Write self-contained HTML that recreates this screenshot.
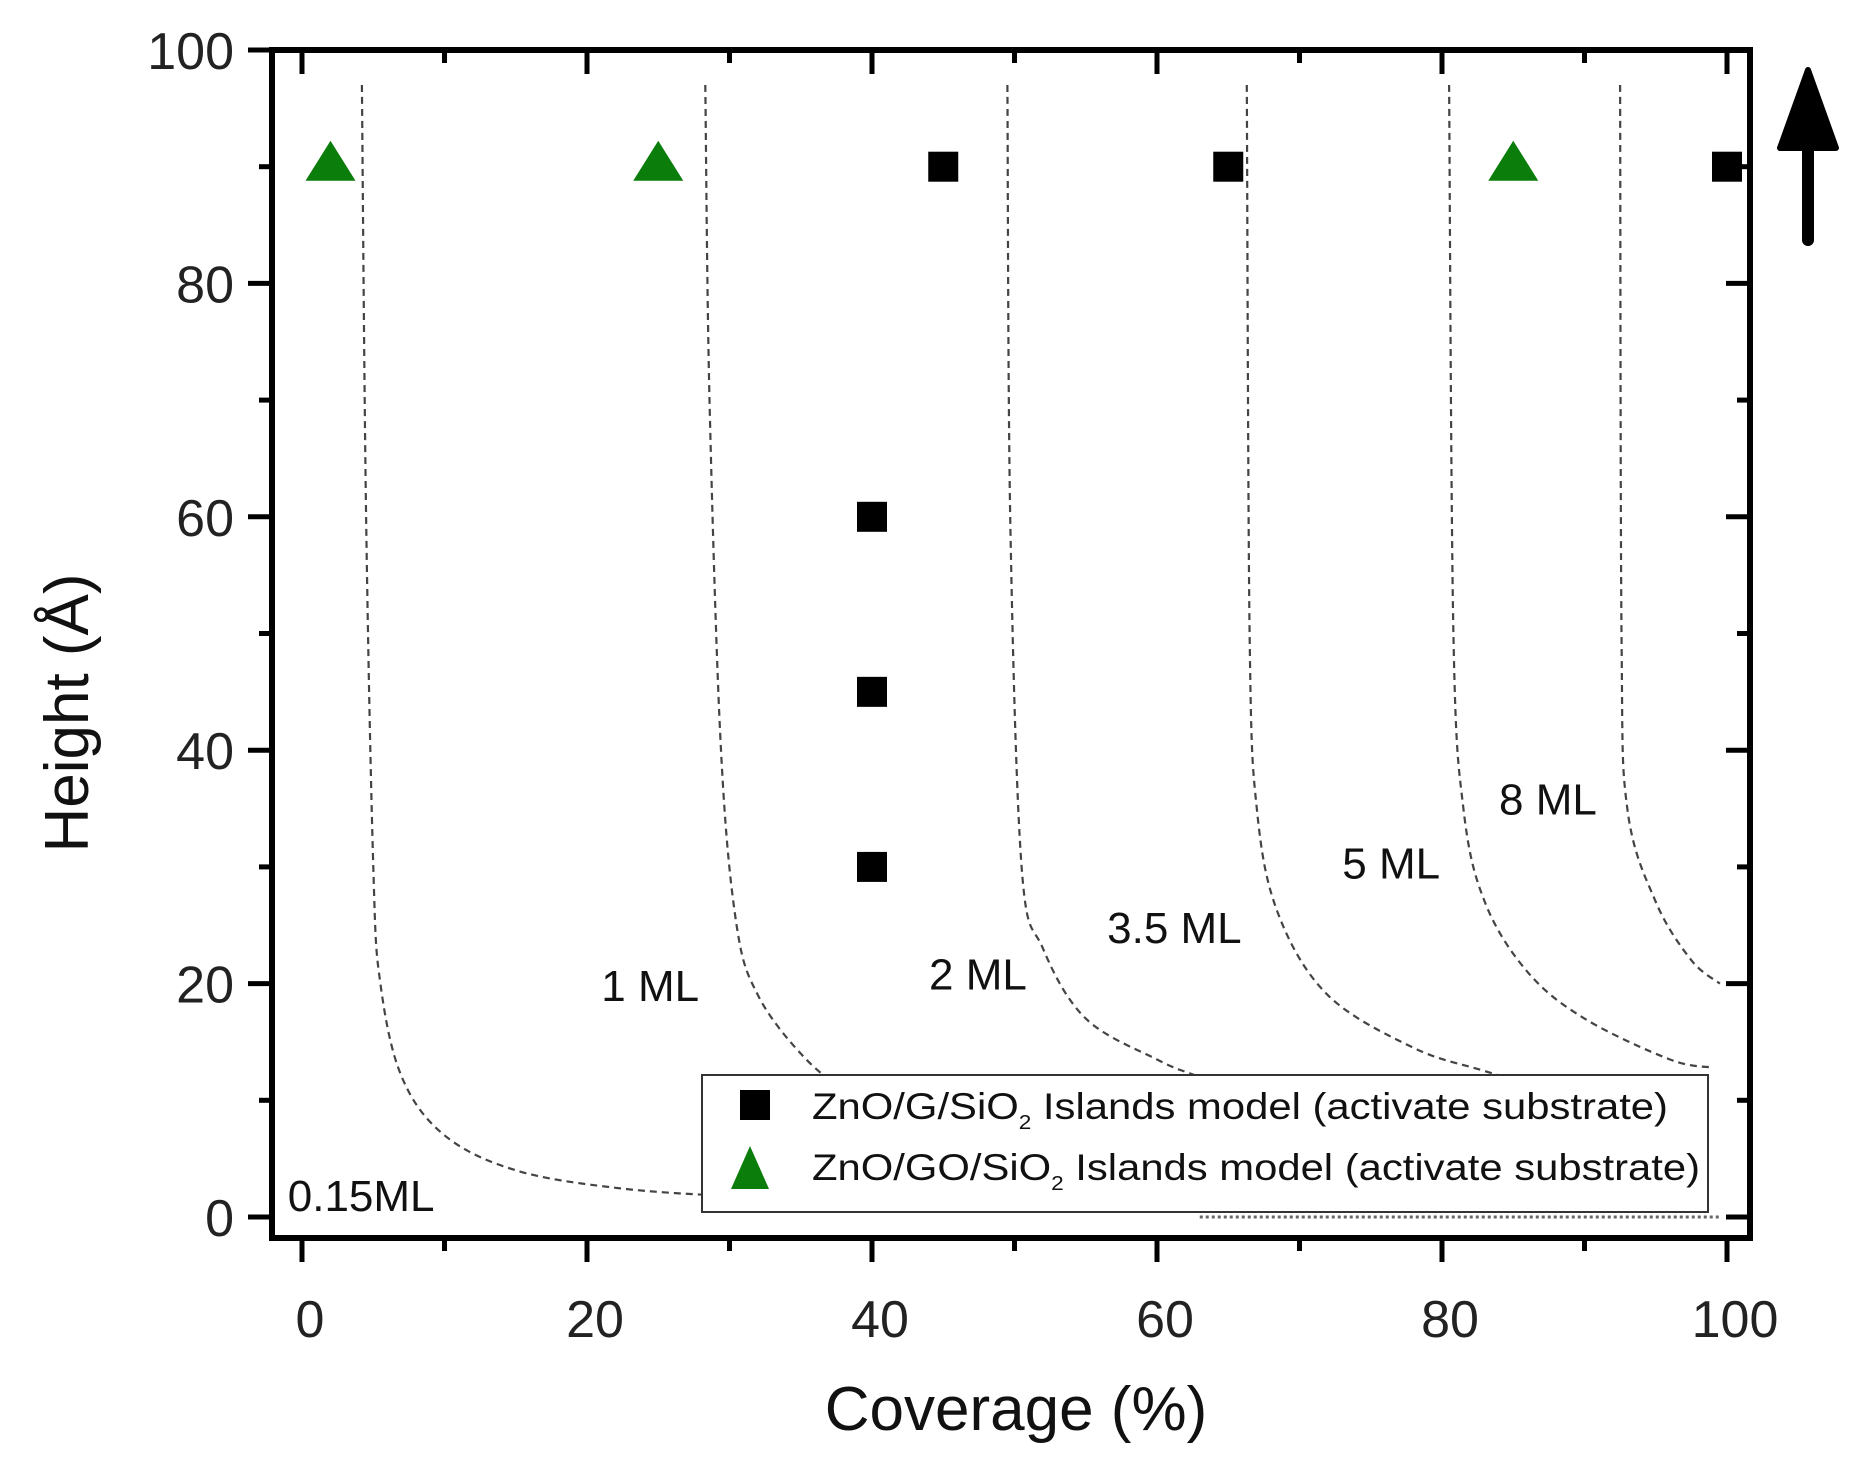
<!DOCTYPE html>
<html><head><meta charset="utf-8"><style>
html,body{margin:0;padding:0;background:#fff;}
svg{display:block;font-family:"Liberation Sans",Arial,sans-serif;}
</style></head><body>
<svg id="chart" width="1869" height="1473" viewBox="0 0 1869 1473" xmlns="http://www.w3.org/2000/svg">
<g id="curves"></g>
<g id="labels"></g>
<g id="legend">
  <rect x="702" y="1075" width="1006" height="137" fill="#fff" stroke="#333" stroke-width="2"/>
  <rect x="740" y="1090" width="30" height="30" fill="#000"/>
  <text x="812" y="1119" font-size="37" fill="#111" textLength="856" lengthAdjust="spacingAndGlyphs">ZnO/G/SiO<tspan font-size="20" dy="10">2</tspan><tspan dy="-10"> Islands model (activate substrate)</tspan></text>
  <polygon points="731,1189 769,1189 750,1146" fill="#0b7d0b"/>
  <text x="812" y="1180" font-size="37" fill="#111" textLength="888" lengthAdjust="spacingAndGlyphs">ZnO/GO/SiO<tspan font-size="20" dy="10">2</tspan><tspan dy="-10"> Islands model (activate substrate)</tspan></text>
</g>
<g id="marks"></g>
<g id="axes"></g>
<text x="1016" y="1430" font-size="62" text-anchor="middle" fill="#111">Coverage (%)</text>
<text transform="translate(88,713) rotate(-90)" font-size="62" text-anchor="middle" fill="#111">Height (Å)</text>
<g>
  <line x1="1808" y1="240" x2="1808" y2="130" stroke="#000" stroke-width="12" stroke-linecap="round"/>
  <polygon points="1780,148 1836,148 1808,70" fill="#000" stroke="#000" stroke-width="6" stroke-linejoin="round"/>
</g>
</svg>
<script>
// data
const squareX = [45, 65, 100, 40, 40, 40];
const squareY = [90, 90, 90, 60, 45, 30];
const triangleX = [2, 25, 85];
const triangleY = [90, 90, 90];
const curveNames = ["0.15ML", "1 ML", "2 ML", "3.5 ML", "5 ML", "8 ML"];
const curve0X = [4.2, 4.5, 5, 5.5, 7, 10, 15, 22, 30, 40];
const curve0Y = [97, 60, 30, 20, 12, 7, 4, 2.5, 1.8, 1.5];
const curve1X = [28.3, 28.6, 29.4, 30.5, 32, 35, 38, 42, 50, 60];
const curve1Y = [97, 70, 40, 25, 19, 14, 11, 9, 6, 4];
const curve2X = [49.5, 49.7, 50.5, 52, 55, 60, 63, 70, 80];
const curve2Y = [97, 60, 30, 23, 17, 13.5, 12, 9, 6];
const curve3X = [66.3, 66.5, 67, 68.5, 72, 78, 83, 90];
const curve3Y = [97, 50, 35, 26, 19, 14.5, 12.5, 10];
const curve4X = [80.5, 80.8, 81.5, 83, 86, 90, 96, 99];
const curve4Y = [97, 50, 35, 27, 21, 17, 13.5, 12.8];
const curve5X = [92.5, 92.6, 93, 95, 97.5, 99.5];
const curve5Y = [97, 50, 35, 27, 22, 20];
const labelX = [-1, 21, 44, 56.5, 73, 84];
const labelY = [0.5, 18.5, 19.5, 23.5, 29, 34.5];
const xTicks = [0, 20, 40, 60, 80, 100];
const yTicks = [0, 20, 40, 60, 80, 100];

const NS = "http://www.w3.org/2000/svg";
const X0 = 302, X100 = 1727, Y0 = 1217, Y100 = 50;
const L = 272, R = 1750, T = 50, B = 1238;
function sx(v){ return X0 + (X100 - X0) * v / 100; }
function sy(v){ return Y0 - (Y0 - Y100) * v / 100; }
function mk(tag, attrs, parent){ const e = document.createElementNS(NS, tag); for (const k in attrs) e.setAttribute(k, attrs[k]); parent.appendChild(e); return e; }

function smoothPath(pts){
  let d = "M" + pts[0][0].toFixed(1) + "," + pts[0][1].toFixed(1);
  for (let i = 0; i < pts.length - 1; i++) {
    const p0 = pts[Math.max(0, i - 1)], p1 = pts[i], p2 = pts[i + 1], p3 = pts[Math.min(pts.length - 1, i + 2)];
    const c1x = p1[0] + (p2[0] - p0[0]) / 6, c1y = p1[1] + (p2[1] - p0[1]) / 6;
    const c2x = p2[0] - (p3[0] - p1[0]) / 6, c2y = p2[1] - (p3[1] - p1[1]) / 6;
    d += ` C${c1x.toFixed(1)},${c1y.toFixed(1)} ${c2x.toFixed(1)},${c2y.toFixed(1)} ${p2[0].toFixed(1)},${p2[1].toFixed(1)}`;
  }
  return d;
}

const curvesG = document.getElementById("curves");
const cxs = [curve0X, curve1X, curve2X, curve3X, curve4X, curve5X];
const cys = [curve0Y, curve1Y, curve2Y, curve3Y, curve4Y, curve5Y];
cxs.forEach((xs, i) => {
  const pts = xs.map((v, j) => [sx(v), sy(cys[i][j])]);
  const p = mk("path", {d: smoothPath(pts), fill: "none", stroke: "#444", "stroke-width": 2.2, "stroke-dasharray": "7,5"}, curvesG);
  
  
});
const bl = mk("line", {x1: sx(63), y1: sy(0), x2: sx(99.5), y2: sy(0), stroke: "#666", "stroke-width": 3, "stroke-dasharray": "3,3"}, curvesG);



const labelsG = document.getElementById("labels");
curveNames.forEach((n, i) => {
  const t = mk("text", {x: sx(labelX[i]), y: sy(labelY[i]), "font-size": 44, fill: "#111"}, labelsG);
  t.textContent = n;
  
  
});

const marksG = document.getElementById("marks");
squareX.forEach((v, i) => {
  const r = mk("rect", {x: sx(v) - 15, y: sy(squareY[i]) - 15, width: 30, height: 30, fill: "#000"}, marksG);
  
  
});
triangleX.forEach((v, i) => {
  const cx = sx(v), cy = sy(triangleY[i]);
  const p = mk("polygon", {points: `${cx-25},${cy+14} ${cx+25},${cy+14} ${cx},${cy-26}`, fill: "#0b7d0b"}, marksG);
  
  
});

const ax = document.getElementById("axes");
mk("rect", {x: L, y: T, width: R - L, height: B - T, fill: "none", stroke: "#000", "stroke-width": 6}, ax);
for (let v = 0; v <= 100; v += 10) {
  const major = v % 20 === 0;
  const len = major ? 24 : 13;
  const x = sx(v), y = sy(v);
  mk("line", {x1: x, y1: B, x2: x, y2: B + len, stroke: "#000", "stroke-width": 5}, ax);
  mk("line", {x1: x, y1: T, x2: x, y2: T + len, stroke: "#000", "stroke-width": 5}, ax);
  mk("line", {x1: L, y1: y, x2: L - len, y2: y, stroke: "#000", "stroke-width": 5}, ax);
  mk("line", {x1: R, y1: y, x2: R - len, y2: y, stroke: "#000", "stroke-width": 5}, ax);
}
xTicks.forEach(v => {
  const t = mk("text", {x: sx(v) + 8, y: 1337, "font-size": 52, "text-anchor": "middle", fill: "#222"}, ax);
  t.textContent = v;
  
  
});
yTicks.forEach(v => {
  const t = mk("text", {x: 234, y: sy(v) + 19, "font-size": 52, "text-anchor": "end", fill: "#222"}, ax);
  t.textContent = v;
  
  
});
</script>
</body></html>
